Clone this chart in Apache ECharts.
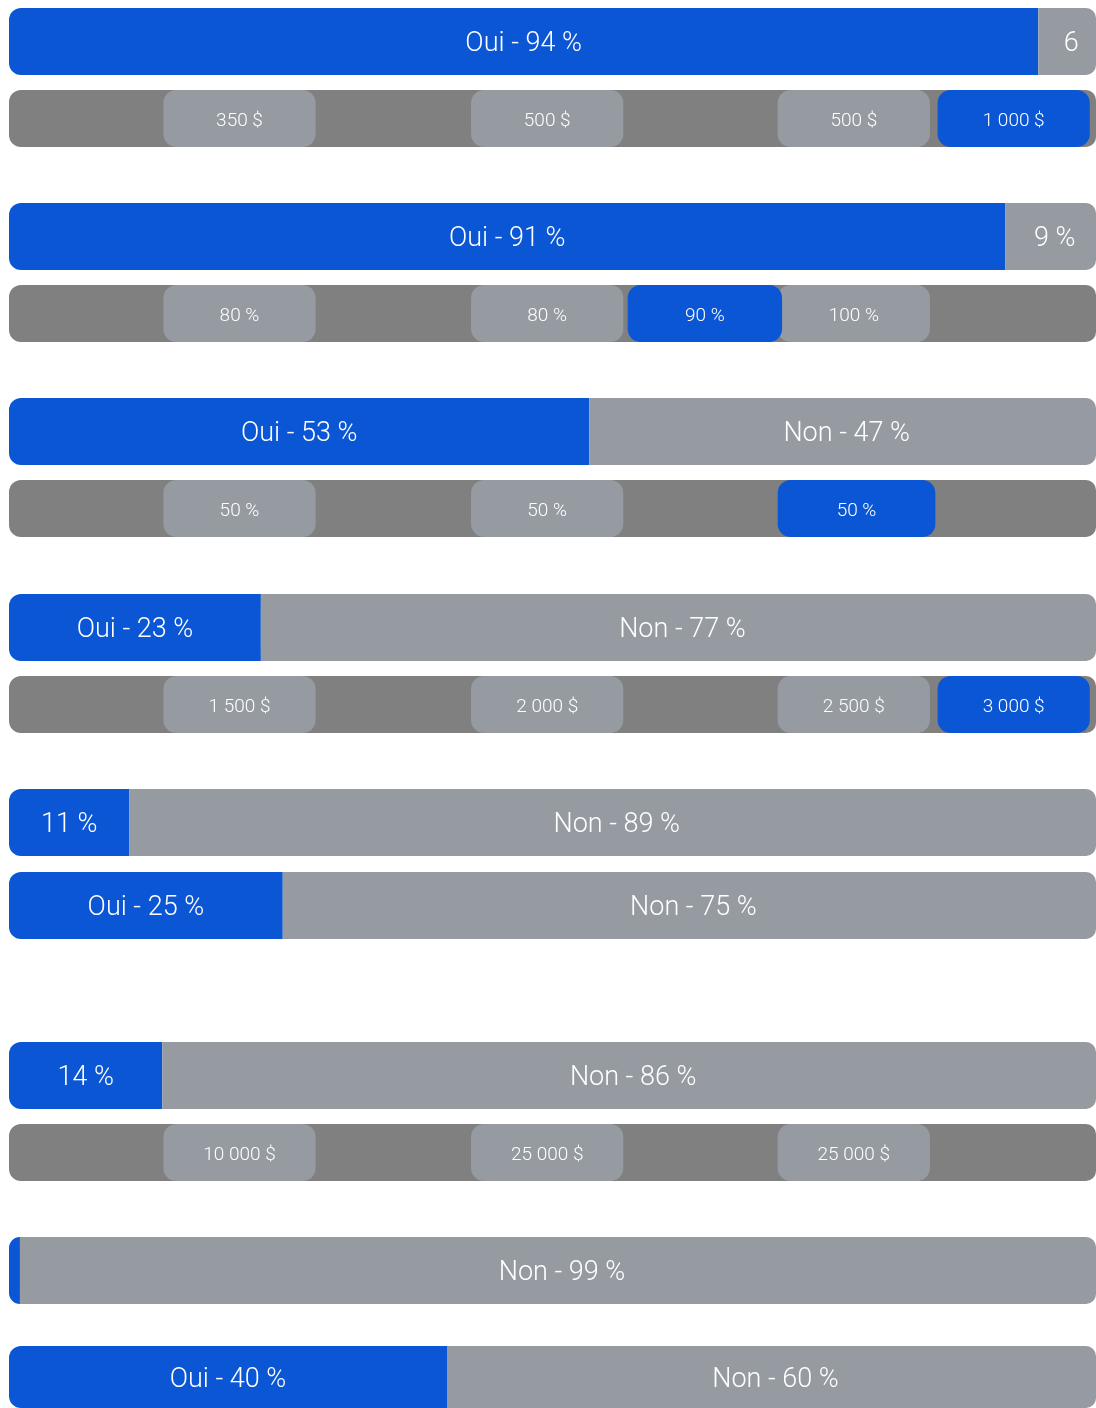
<!DOCTYPE html>
<html>
<head>
<meta charset="utf-8">
<script src="https://cdn.jsdelivr.net/npm/echarts@6/dist/echarts.min.js"></script>
<style>
  html, body { margin: 0; padding: 0; background: #ffffff; }
  #chart { width: 1096px; height: 1408px; }
</style>
</head>
<body>
<div id="chart"></div>
<script>
// ---- data ----
const ouiValues = [94, 91, 53, 23, 11, 25, 14, 1, 40];
const nonValues = [6, 9, 47, 77, 89, 75, 86, 99, 60];
const ouiLabels = ['Oui - 94 %', 'Oui - 91 %', 'Oui - 53 %', 'Oui - 23 %', '11 %', 'Oui - 25 %', '14 %', '', 'Oui - 40 %'];
const nonLabels = ['6', '9 %', 'Non - 47 %', 'Non - 77 %', 'Non - 89 %', 'Non - 75 %', 'Non - 86 %', 'Non - 99 %', 'Non - 60 %'];

const optionLabels = [
  ['350 $', '500 $', '500 $'],
  ['80 %', '80 %', '100 %'],
  ['50 %', '50 %'],
  ['1 500 $', '2 000 $', '2 500 $'],
  ['10 000 $', '25 000 $', '25 000 $']
];
const optionStarts = [
  [14.1, 42.2, 70.2],
  [14.1, 42.2, 70.2],
  [14.1, 42.2],
  [14.1, 42.2, 70.2],
  [14.1, 42.2, 70.2]
];
const optionEnds = [
  [28.0, 56.1, 84.1],
  [28.0, 56.1, 84.1],
  [28.0, 56.1],
  [28.0, 56.1, 84.1],
  [28.0, 56.1, 84.1]
];
const chosenLabels = ['1 000 $', '90 %', '50 %', '3 000 $', null];
const chosenStarts = [84.8, 56.5, 70.2, 84.8, null];
const chosenEnds = [98.7, 70.6, 84.6, 98.7, null];
const trackValue = 100;

// ---- layout ----
const BLUE = '#0a56d4', GRAY = '#959ba1', DARK = '#808080';
const FONT = 'Roboto';
const XMAX = 1087 / 10.95;
const rowKinds = ['m', 's', 'm', 's', 'm', 's', 'm', 's', 'm', 'm', 'm', 's', 'm', 'm'];
const rowTops = [8, 90, 203, 285, 398, 480, 594, 676, 789, 872, 1042, 1124, 1237, 1346];
const MAIN_H = 67, SUB_H = 57;

const grid = [], xAxis = [], yAxis = [], series = [];
let mi = 0, si = 0;

function pillSeries(k, starts, ends, labels, color, z) {
  return {
    type: 'custom', xAxisIndex: k, yAxisIndex: k, z: z, silent: true,
    encode: { x: [0, 1] },
    data: starts.map((s, i) => [s, ends[i], 0]),
    renderItem: function (params, api) {
      const a = api.coord([api.value(0), 0]);
      const b = api.coord([api.value(1), 0]);
      const h = api.size([0, 1])[1];
      return {
        type: 'rect',
        shape: { x: a[0], y: a[1] - h / 2, width: b[0] - a[0], height: h, r: 13 },
        style: { fill: color },
        textContent: {
          style: { text: labels[params.dataIndex], fill: '#ffffff', fontSize: 19, fontFamily: FONT, fontWeight: 300 }
        },
        textConfig: { position: 'inside', offset: [0, 3] }
      };
    }
  };
}

rowKinds.forEach((kind, k) => {
  const h = kind === 'm' ? MAIN_H : SUB_H;
  grid.push({ left: 9, right: 0, top: rowTops[k], height: h });
  xAxis.push({ gridIndex: k, type: 'value', min: 0, max: XMAX, show: false });
  yAxis.push({ gridIndex: k, type: 'category', data: [''], show: false });
  if (kind === 'm') {
    const i = mi++;
    const lbl = { show: true, position: 'inside', color: '#ffffff', fontSize: 27, fontFamily: FONT, fontWeight: 300 };
    series.push({
      type: 'bar', xAxisIndex: k, yAxisIndex: k, stack: 'r' + k, barWidth: '100%', silent: true,
      data: [ouiValues[i]],
      itemStyle: { color: BLUE, borderRadius: [12, 0, 0, 12] },
      label: Object.assign({}, lbl, { formatter: ouiLabels[i], offset: [0, 3] })
    });
    series.push({
      type: 'bar', xAxisIndex: k, yAxisIndex: k, stack: 'r' + k, barWidth: '100%', silent: true,
      data: [nonValues[i]],
      itemStyle: { color: GRAY, borderRadius: [0, 10, 10, 0] },
      label: Object.assign({}, lbl, { formatter: nonLabels[i], offset: [4, 3] })
    });
  } else {
    const j = si++;
    series.push({
      type: 'bar', xAxisIndex: k, yAxisIndex: k, barWidth: '100%', silent: true, z: 1,
      data: [trackValue],
      itemStyle: { color: DARK, borderRadius: [12, 10, 10, 12] }
    });
    series.push(pillSeries(k, optionStarts[j], optionEnds[j], optionLabels[j], GRAY, 3));
    if (chosenLabels[j] !== null) {
      series.push(pillSeries(k, [chosenStarts[j]], [chosenEnds[j]], [chosenLabels[j]], BLUE, 4));
    }
  }
});

const chart = echarts.init(document.getElementById('chart'), null, { renderer: 'canvas' });
chart.setOption({ animation: false, grid, xAxis, yAxis, series });
</script>
</body>
</html>
